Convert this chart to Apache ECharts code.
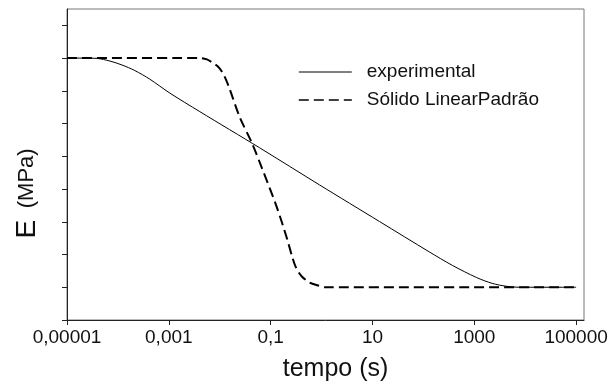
<!DOCTYPE html>
<html>
<head>
<meta charset="utf-8">
<script src="https://cdn.jsdelivr.net/npm/echarts@6/dist/echarts.min.js"></script>
<style>html,body{margin:0;padding:0;background:#fff;}#c{width:612px;height:391px;}</style>
</head>
<body>
<div id="c"></div>
<script>
// tempo (s) and E values (in y-tick units)
const expTime  = [1e-5, 2.2e-5, 3.9e-5, 6.97e-5, 1.2e-4, 2.15e-4, 4.2e-4, 1.05e-3, 4.06e-3, 0.0608, 0.914, 13.7, 131, 370, 1100, 2240, 4270, 7600, 1e5];
const expE     = [8.0, 8.0, 7.99, 7.91, 7.79, 7.62, 7.36, 6.93, 6.365, 5.26, 4.126, 3.01, 2.08, 1.67, 1.30, 1.12, 1.03, 1.0, 1.0];
const slpTime  = [1e-5, 0.0041, 0.0056, 0.0072, 0.0091, 0.011, 0.0132, 0.0158, 0.0245, 0.0427, 0.066, 0.132, 0.214, 0.27, 0.32, 0.41, 0.575, 0.83, 1.2, 1e5];
const slpE     = [8.0, 8.0, 7.96, 7.86, 7.75, 7.59, 7.35, 7.04, 6.21, 5.41, 4.68, 3.45, 2.44, 1.89, 1.58, 1.33, 1.15, 1.06, 1.0, 1.0];
const xTicks   = [1e-5, 1e-3, 0.1, 10, 1000, 100000];
const yTicks   = [0, 1, 2, 3, 4, 5, 6, 7, 8, 9];
const seriesNames = ['experimental', 'Sólido LinearPadrão'];

const pair = (xs, ys) => xs.map((x, i) => [x, ys[i]]);
const fmt = v => String(Number(Number(v).toPrecision(6))).replace('.', ',');
const FONT = 'Liberation Sans, Arial';

const chart = echarts.init(document.getElementById('c'), null, {renderer: 'canvas'});
chart.setOption({
  animation: false,
  backgroundColor: '#fff',
  grid: {left: 67, right: 28, top: 9, bottom: 71, show: true, borderColor: '#777', borderWidth: 1},
  legend: {
    orient: 'vertical', left: 298, top: 61, padding: 0, itemWidth: 53, itemHeight: 14, itemGap: 6,
    data: [
      {name: seriesNames[0], lineStyle: {width: 1}},
      {name: seriesNames[1], lineStyle: {width: 1.6}}
    ],
    itemStyle: {opacity: 0},
    textStyle: {fontFamily: FONT, fontSize: 19, color: '#111', lineHeight: 22, padding: [0, 0, 0, 10]}
  },
  xAxis: {
    type: 'log', logBase: 10, min: 1e-5, max: 143000,
    name: 'tempo (s)', nameLocation: 'middle', nameGap: 37,
    nameTextStyle: {fontFamily: FONT, fontSize: 25, color: '#111', padding: [0, 0, 0, 20]},
    axisLine: {lineStyle: {color: '#222', width: 1}},
    axisTick: {show: true, length: 5, lineStyle: {color: '#222'}, customValues: xTicks},
    minorTick: {show: false},
    splitLine: {show: false},
    axisLabel: {customValues: xTicks, formatter: fmt, fontFamily: FONT, fontSize: 19, color: '#111', margin: 8}
  },
  yAxis: {
    type: 'value', min: 0, max: 9.5, interval: 1,
    name: '{e|E}  {u|(MPa)}', nameLocation: 'middle', nameGap: 26, nameRotate: 90,
    nameTextStyle: {fontFamily: FONT, fontSize: 21, color: '#111', padding: [0, 58, 0, 0], rich: {
      e: {fontFamily: FONT, fontSize: 28, color: '#111'},
      u: {fontFamily: FONT, fontSize: 22, color: '#111'}
    }},
    axisLine: {show: true, lineStyle: {color: '#222', width: 1}},
    axisTick: {show: true, length: 5, lineStyle: {color: '#222'}, customValues: yTicks},
    axisLabel: {show: false},
    splitLine: {show: false}
  },
  series: [
    {name: seriesNames[0], type: 'line', data: pair(expTime, expE), symbol: 'none', smooth: 0.3,
     lineStyle: {color: '#000', width: 1}, itemStyle: {color: '#000'}},
    {name: seriesNames[1], type: 'line', data: pair(slpTime, slpE), symbol: 'none', smooth: 0.3,
     lineStyle: {color: '#000', width: 2, type: [10, 5]}, itemStyle: {color: '#000'}}
  ]
});
</script>
</body>
</html>
